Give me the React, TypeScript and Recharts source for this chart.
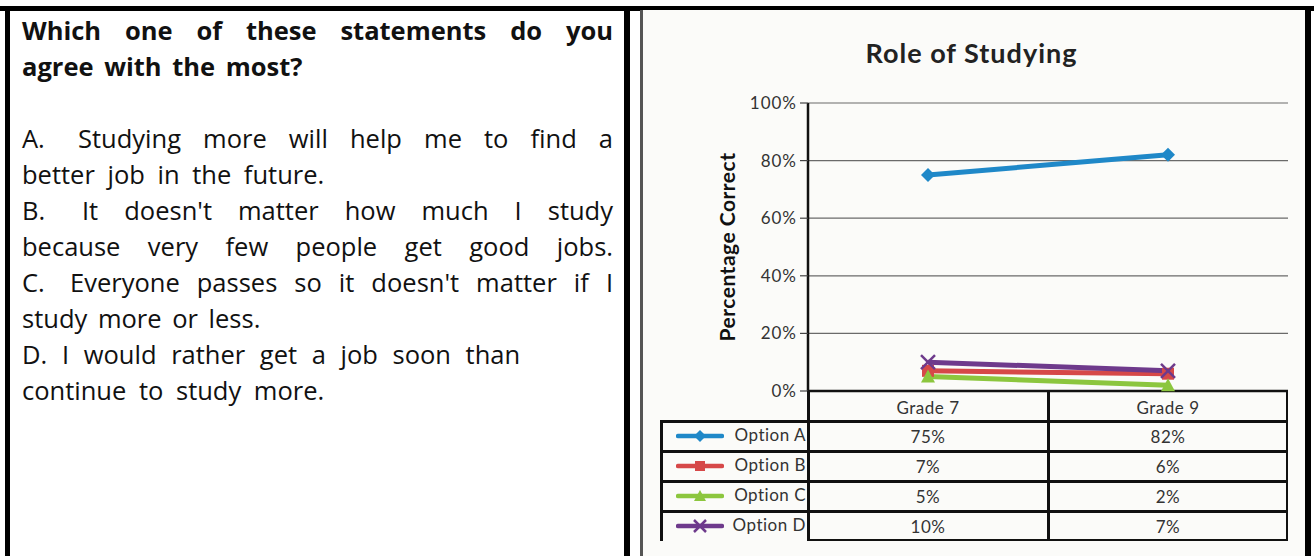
import React from "react";
import { LineChart, Line, XAxis, YAxis, CartesianGrid } from "recharts";

const grades = ["Grade 7", "Grade 9"];
const optionA = [75, 82];
const optionB = [7, 6];
const optionC = [5, 2];
const optionD = [10, 7];
const yTicks = [0, 20, 40, 60, 80, 100];

const seriesList = [
  { key: "a", name: "Option A", values: optionA, color: "#1f88c8", shape: "diamond" },
  { key: "b", name: "Option B", values: optionB, color: "#d64848", shape: "square" },
  { key: "c", name: "Option C", values: optionC, color: "#8cc63e", shape: "triangle" },
  { key: "d", name: "Option D", values: optionD, color: "#6e3a8c", shape: "cross" },
];

const data = grades.map((g, i) => {
  const row: Record<string, string | number> = { grade: g };
  seriesList.forEach((s) => (row[s.key] = s.values[i]));
  return row;
});

type QLine = { text: string; prefix?: string; prefixW?: number; bold?: boolean; justify?: boolean; ws?: number };

const questionLines: QLine[] = [
  { text: "Which one of these statements do you", bold: true, justify: true },
  { text: "agree with the most?", bold: true, ws: 4 },
  { text: "" },
  { prefix: "A.", prefixW: 56, text: "Studying more will help me to find a", justify: true },
  { text: "better job in the future." },
  { prefix: "B.", prefixW: 60, text: "It doesn't matter how much I study", justify: true },
  { text: "because very few people get good jobs.", justify: true },
  { prefix: "C.", prefixW: 48, text: "Everyone passes so it doesn't matter if I", justify: true },
  { text: "study more or less.", ws: 4 },
  { prefix: "D.", prefixW: 40, text: "I would rather get a job soon than", ws: 8 },
  { text: "continue to study more." },
];

// panel geometry (right panel)
const PANEL_X = 640;
const PANEL_Y = 10;
const PANEL_W = 665;
const PANEL_H = 546;
const PLOT_LEFT = 168;
const PLOT_RIGHT = 648;
const PLOT_TOP = 93;
const PLOT_BOTTOM = 381;
const HEADER_H = 30;
const ROW_H = 30;
const LEGEND_LEFT = 20;

const Marker = ({ cx, cy, shape, color, size = 7 }: any) => {
  if (cx == null || cy == null) return null;
  if (shape === "diamond")
    return <polygon points={`${cx},${cy - size} ${cx + size},${cy} ${cx},${cy + size} ${cx - size},${cy}`} fill={color} />;
  if (shape === "square")
    return <rect x={cx - size + 1} y={cy - size + 1} width={(size - 1) * 2} height={(size - 1) * 2} fill={color} />;
  if (shape === "triangle")
    return <polygon points={`${cx},${cy - size} ${cx + size},${cy + size - 1} ${cx - size},${cy + size - 1}`} fill={color} />;
  return (
    <g stroke={color} strokeWidth={2.5}>
      <line x1={cx - size} y1={cy - size} x2={cx + size} y2={cy + size} />
      <line x1={cx - size} y1={cy + size} x2={cx + size} y2={cy - size} />
    </g>
  );
};

const font = "Lato, 'Open Sans', sans-serif";
const textFont = "'Open Sans', sans-serif";
const cellText = { fontFamily: font, fontSize: 17, letterSpacing: 0.5, color: "#333" };

const App = () => {
  const colW = (PLOT_RIGHT - PLOT_LEFT) / grades.length;
  return (
    <div style={{ position: "absolute", left: 0, top: 0, width: 1314, height: 556, background: "#fff", overflow: "hidden" }}>
      {/* frame */}
      <div style={{ position: "absolute", left: 0, top: 6, width: 1314, height: 5, background: "#000" }} />
      <div style={{ position: "absolute", left: 5, top: 6, width: 5, height: 550, background: "#000" }} />
      <div style={{ position: "absolute", left: 624, top: 6, width: 6, height: 550, background: "#000" }} />
      <div style={{ position: "absolute", left: 1305, top: 6, width: 6, height: 550, background: "#000" }} />

      {/* question text */}
      <div style={{ position: "absolute", left: 22, top: 12, width: 591, fontFamily: textFont, fontSize: 25.5, lineHeight: "36px", color: "#111" }}>
        {questionLines.map((l, i) => (
          <div
            key={i}
            style={{
              height: 36,
              whiteSpace: "nowrap",
              wordSpacing: l.ws ?? 6,
              fontWeight: l.bold ? 700 : 400,
              textAlign: l.justify ? "justify" : "left",
              textAlignLast: l.justify ? "justify" : "left",
            }}
          >
            {l.prefix && <span style={{ display: "inline-block", width: l.prefixW }}>{l.prefix}</span>}
            {l.text}
          </div>
        ))}
      </div>

      {/* chart panel */}
      <div style={{ position: "absolute", left: PANEL_X, top: PANEL_Y, width: PANEL_W, height: PANEL_H, background: "#fbfbf9", borderLeft: "3px solid #555", boxSizing: "border-box" }} />
      <div style={{ position: "absolute", left: PANEL_X, top: PANEL_Y, width: PANEL_W, height: PANEL_H }}>
        <div style={{ position: "absolute", left: 0, top: 26, width: PANEL_W - 2, textAlign: "center", fontFamily: font, fontWeight: 700, fontSize: 27, letterSpacing: 1, color: "#222" }}>
          Role of Studying
        </div>
        <LineChart
          width={PANEL_W}
          height={PANEL_H}
          data={data}
          margin={{ top: PLOT_TOP, right: PANEL_W - PLOT_RIGHT, bottom: PANEL_H - PLOT_BOTTOM - HEADER_H, left: 0 }}
          style={{ position: "absolute", left: 0, top: 0 }}
        >
          <CartesianGrid vertical={false} stroke="#6a6a6a" strokeWidth={1.2} />
          <XAxis
            dataKey="grade"
            scale="band"
            height={HEADER_H}
            axisLine={{ stroke: "#111", strokeWidth: 2.5 }}
            tickLine={false}
            tick={{ fill: "#333", fontSize: 17, fontFamily: font, letterSpacing: 0.5 }}
            tickMargin={5}
          />
          <YAxis
            domain={[0, 100]}
            ticks={yTicks}
            interval={0}
            width={PLOT_LEFT}
            tickFormatter={(v) => `${v}%`}
            axisLine={{ stroke: "#111", strokeWidth: 2.5 }}
            tickLine={{ stroke: "#444", strokeWidth: 1.2 }}
            tickSize={8}
            tickMargin={3}
            tick={{ fill: "#333", fontSize: 17, fontFamily: font, letterSpacing: 1 }}
            label={{ value: "Percentage Correct", angle: -90, position: "center", dx: 4, fill: "#111", fontSize: 21, fontWeight: 700, fontFamily: font, letterSpacing: 0.5 }}
          />
          {seriesList.map((s) => (
            <Line
              key={s.key}
              dataKey={s.key}
              stroke={s.color}
              strokeWidth={5}
              isAnimationActive={false}
              dot={(p: any) => <Marker key={`${s.key}-${p.index}`} cx={p.cx} cy={p.cy} shape={s.shape} color={s.color} />}
              activeDot={false}
            />
          ))}
        </LineChart>

        {/* data table */}
        <div style={{ position: "absolute", left: PLOT_LEFT, top: PLOT_BOTTOM, width: PLOT_RIGHT - PLOT_LEFT, height: HEADER_H + ROW_H * seriesList.length, borderRight: "2.5px solid #111", borderBottom: "2.5px solid #111", boxSizing: "border-box" }} />
        {grades.slice(1).map((g, i) => (
          <div key={g} style={{ position: "absolute", left: PLOT_LEFT + colW * (i + 1) - 1, top: PLOT_BOTTOM, width: 2.5, height: HEADER_H + ROW_H * seriesList.length, background: "#111" }} />
        ))}
        {seriesList.map((s, r) => {
          const top = PLOT_BOTTOM + HEADER_H + ROW_H * r;
          return (
            <React.Fragment key={s.key}>
              <div style={{ position: "absolute", left: LEGEND_LEFT, top: top - 1, width: PLOT_RIGHT - LEGEND_LEFT, height: 2.5, background: "#111" }} />
              <svg style={{ position: "absolute", left: LEGEND_LEFT + 16, top }} width={48} height={ROW_H}>
                <line x1={2} y1={ROW_H / 2} x2={46} y2={ROW_H / 2} stroke={s.color} strokeWidth={4.5} strokeLinecap="round" />
                <Marker cx={24} cy={ROW_H / 2} shape={s.shape} color={s.color} size={6} />
              </svg>
              <div style={{ ...cellText, position: "absolute", left: LEGEND_LEFT + 56, top, width: PLOT_LEFT - LEGEND_LEFT - 58, height: ROW_H, lineHeight: `${ROW_H - 2}px`, textAlign: "right" }}>
                {s.name}
              </div>
              {s.values.map((v, c) => (
                <div key={c} style={{ ...cellText, position: "absolute", left: PLOT_LEFT + colW * c, top, width: colW, height: ROW_H, lineHeight: `${ROW_H + 2}px`, textAlign: "center" }}>
                  {v}%
                </div>
              ))}
            </React.Fragment>
          );
        })}
        <div style={{ position: "absolute", left: LEGEND_LEFT, top: PLOT_BOTTOM + HEADER_H - 1, width: 2.5, height: ROW_H * seriesList.length + 1, background: "#111" }} />
        <div style={{ position: "absolute", left: PLOT_LEFT - 1, top: PLOT_BOTTOM, width: 2.5, height: HEADER_H + ROW_H * seriesList.length, background: "#111" }} />
      </div>
    </div>
  );
};

export default App;
